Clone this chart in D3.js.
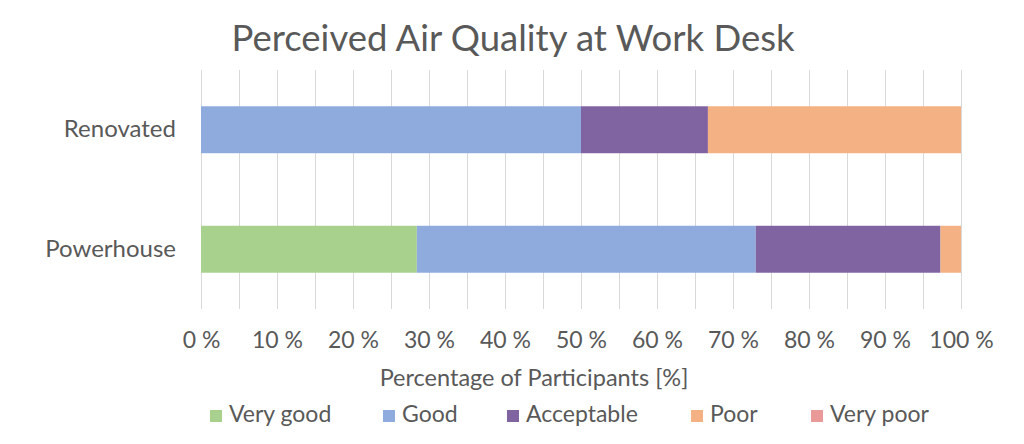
<!DOCTYPE html>
<html><head><meta charset="utf-8">
<script src="https://cdn.jsdelivr.net/npm/d3@7"></script>
<style>
html,body{margin:0;padding:0;background:#fff;}
text{font-family:Lato,"Open Sans",sans-serif;fill:#595959;}
</style></head>
<body><svg id="c" width="1024" height="444"></svg>
<script>
const categories = ["Renovated", "Powerhouse"];
const seriesNames = ["Very good", "Good", "Acceptable", "Poor", "Very poor"];
const veryGood  = [0, 28.4];
const good      = [50, 44.6];
const acceptable= [16.7, 24.3];
const poor      = [33.3, 2.7];
const veryPoor  = [0, 0];
const colors = ["#a9d18e", "#8faadc", "#8064a2", "#f4b183", "#ea9999"];
const tickValues = [0,10,20,30,40,50,60,70,80,90,100];
const gridValues = d3.range(0, 101, 5);
const titleText = "Perceived Air Quality at Work Desk";
const xTitle = "Percentage of Participants [%]";

const seriesValues = [veryGood, good, acceptable, poor, veryPoor];
const rows = categories.map((c, i) => {
  const r = {cat: c};
  seriesNames.forEach((s, j) => r[s] = seriesValues[j][i]);
  return r;
});
const stacked = d3.stack().keys(seriesNames)(rows);

const svg = d3.select("#c");
const x = d3.scaleLinear().domain([0, 100]).range([201, 961]);
const y = d3.scaleBand().domain(categories).range([70, 309]).paddingInner(0.607).paddingOuter(0.3035);

// gridlines
svg.append("g").selectAll("line").data(gridValues).join("line")
  .attr("x1", d => x(d) + 0.5).attr("x2", d => x(d) + 0.5)
  .attr("y1", 70).attr("y2", 309)
  .attr("stroke", "#d9d9d9").attr("stroke-width", 1);

// bars
svg.append("g").selectAll("g").data(stacked).join("g")
  .attr("fill", (d, i) => colors[i])
  .selectAll("rect").data(d => d).join("rect")
  .attr("x", d => x(d[0]))
  .attr("width", d => Math.max(0, x(d[1]) - x(d[0])))
  .attr("y", d => y(d.data.cat))
  .attr("height", y.bandwidth());

// x axis tick labels
const xAxis = d3.axisBottom(x).tickValues(tickValues).tickFormat(d => d + " %").tickSize(0).tickPadding(0);
const gx = svg.append("g").attr("transform", "translate(0,332)").call(xAxis);
gx.select(".domain").remove();
gx.selectAll("text").attr("font-size", 23).attr("dy", "0.71em").style("font-family", "Lato").attr("fill", "#595959");

// y axis labels
const yAxis = d3.axisLeft(y).tickSize(0).tickPadding(0);
const gy = svg.append("g").attr("transform", "translate(176,0)").call(yAxis);
gy.select(".domain").remove();
gy.selectAll("text").attr("font-size", 24).style("font-family", "Lato").attr("fill", "#595959");

// title
svg.append("text").attr("x", 513).attr("y", 51).attr("text-anchor", "middle")
  .attr("font-size", 36.5).text(titleText);

// x title
svg.append("text").attr("x", 534).attr("y", 386).attr("text-anchor", "middle")
  .attr("font-size", 23.5).text(xTitle);

// legend
const legendX = [210, 383, 507, 691, 811];
const lg = svg.append("g").selectAll("g").data(seriesNames).join("g")
  .attr("transform", (d, i) => `translate(${legendX[i]},0)`);
lg.append("rect").attr("x", 0).attr("y", 410).attr("width", 12).attr("height", 12)
  .attr("fill", (d, i) => colors[i]);
lg.append("text").attr("x", 19).attr("y", 422).attr("font-size", 23).text(d => d);
</script></body></html>
